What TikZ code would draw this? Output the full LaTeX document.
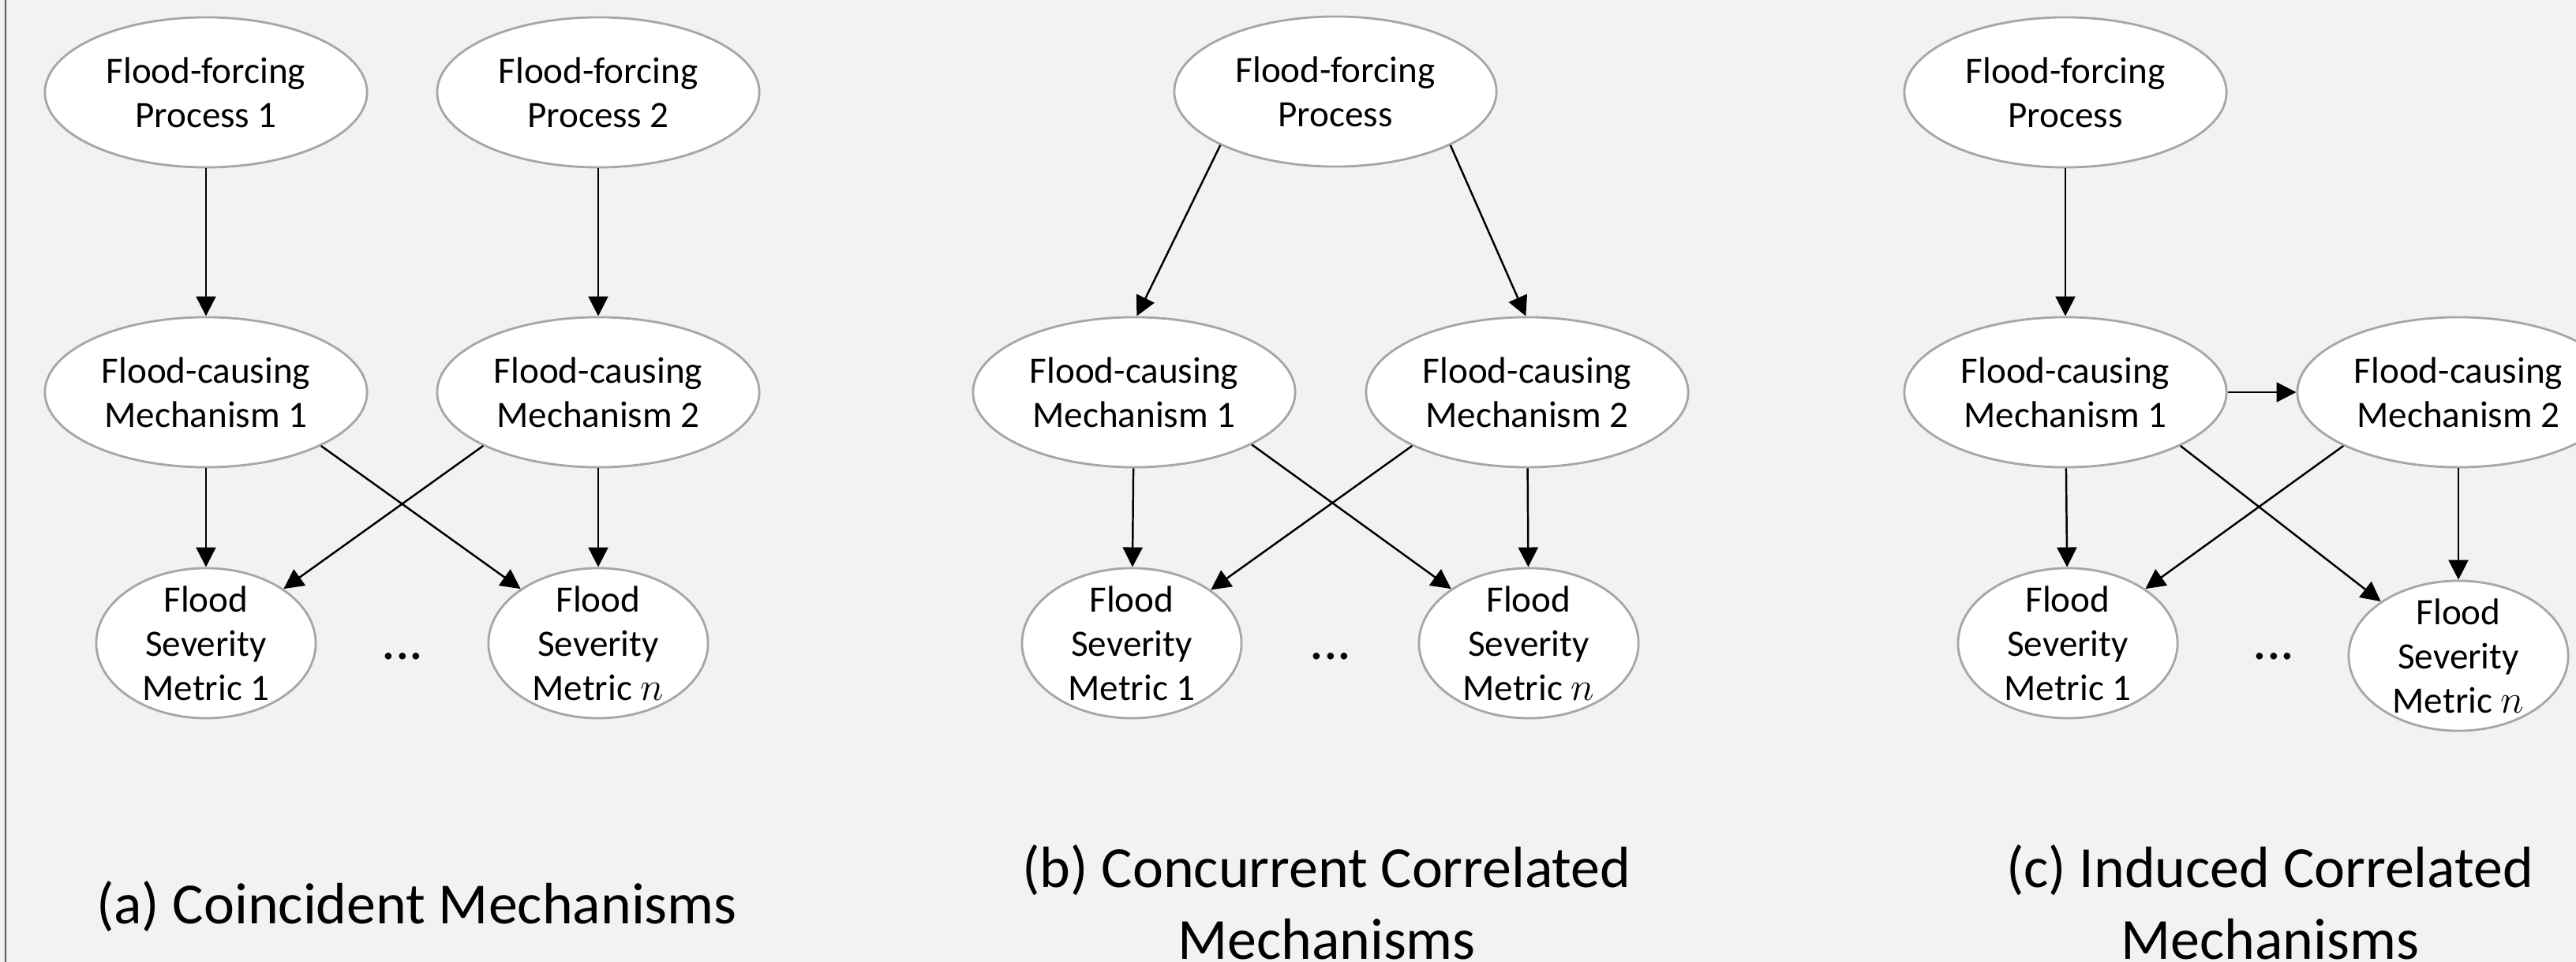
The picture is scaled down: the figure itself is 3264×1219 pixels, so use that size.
\documentclass[tikz,border=0pt]{standalone}
\usepackage{fontspec}
\setmainfont{Carlito}
\usepackage{tikz}
\usetikzlibrary{arrows.meta, shapes.geometric}
\definecolor{bgcol}{HTML}{F2F2F2}
\definecolor{rimcol}{HTML}{A6A6A6}
\definecolor{framecol}{HTML}{595959}

\begin{document}
\begin{tikzpicture}[x = 0.01cm, y = -0.01cm,
    bubble/.style = {ellipse, draw = rimcol, line width = 0.8pt, fill = white,
      inner sep = 0pt, align = center, font = \fontsize{13.4}{15.9}\selectfont,
      minimum width = 4.08cm, minimum height = 1.9cm},
    metric/.style = {bubble, minimum width = 2.78cm, inner ysep = -0.1cm},
    link/.style = {-{Triangle[length=2.5mm, width=2.5mm]}, line width = 0.7pt},
    dots/.style = {anchor = base, font = \fontsize{20}{24}\selectfont},
    caption/.style = {anchor = base, align = center, font = \fontsize{21}{25.6}\selectfont}]

      \useasboundingbox (0,0) rectangle (3264,1219);
      \clip (0,0) rectangle (3264,1219);
      \fill[bgcol] (0,0) rectangle (3264,1219);
      \draw[framecol, line width = 0.6pt] (7,0) -- (7,1219);

      % (a)
      \node[bubble] (a1) at (261,117) {Flood-forcing\\Process 1};
      \node[bubble] (a2) at (758,117) {Flood-forcing\\Process 2};
      \node[bubble] (a3) at (261,497) {Flood-causing\\Mechanism 1};
      \node[bubble] (a4) at (758,497) {Flood-causing\\Mechanism 2};
      \node[metric] (a5) at (261,815) {Flood\\Severity\\Metric 1};
      \node[metric] (a6) at (758,815) {Flood\\Severity\\Metric $n$};
      \node[dots] (adots) at (510,835) {...};
      \node[caption] (acap) at (528,1170) {(a) Coincident Mechanisms};

      \draw[link] (a1) -- (a3);
      \draw[link] (a2) -- (a4);
      \draw[link] (a3) -- (a5);
      \draw[link] (a4) -- (a6);
      \draw[link] (a3.-25) -- (a6.145);
      \draw[link] (a4.205) -- (a5.35);

      % (b)
      \node[bubble] (b1) at (1692,116) {Flood-forcing\\Process};
      \node[bubble] (b2) at (1437,497) {Flood-causing\\Mechanism 1};
      \node[bubble] (b3) at (1935,497) {Flood-causing\\Mechanism 2};
      \node[metric] (b4) at (1434,815) {Flood\\Severity\\Metric 1};
      \node[metric] (b5) at (1937,815) {Flood\\Severity\\Metric $n$};
      \node[dots] (bdots) at (1686,835) {...};
      \node[caption] (bcap) at (1681,1215) {(b) Concurrent Correlated\\Mechanisms};

      \draw[link] (b1.205) -- (b2.88);
      \draw[link] (b1.335) -- (b3.91);
      \draw[link] (b2) -- (b4);
      \draw[link] (b3) -- (b5);
      \draw[link] (b2.-24) -- (b5.145);
      \draw[link] (b3.205) -- (b4.34);

      % (c)
      \node[bubble] (c1) at (2617,117) {Flood-forcing\\Process};
      \node[bubble] (c2) at (2617,497) {Flood-causing\\Mechanism 1};
      \node[bubble] (c3) at (3115,497) {Flood-causing\\Mechanism 2};
      \node[metric] (c4) at (2620,815) {Flood\\Severity\\Metric 1};
      \node[metric] (c5) at (3115,831) {Flood\\Severity\\Metric $n$};
      \node[dots] (cdots) at (2881,835) {...};
      \node[caption] (ccap) at (2876,1215) {(c) Induced Correlated\\Mechanisms};

      \draw[link] (c1) -- (c2);
      \draw[link] (c2) -- (c3);
      \draw[link] (c2) -- (c4);
      \draw[link] (c3) -- (c5);
      \draw[link] (c2.-25) -- (c5.145);
      \draw[link] (c3.205) -- (c4.35);
    \end{tikzpicture}
\end{document}
